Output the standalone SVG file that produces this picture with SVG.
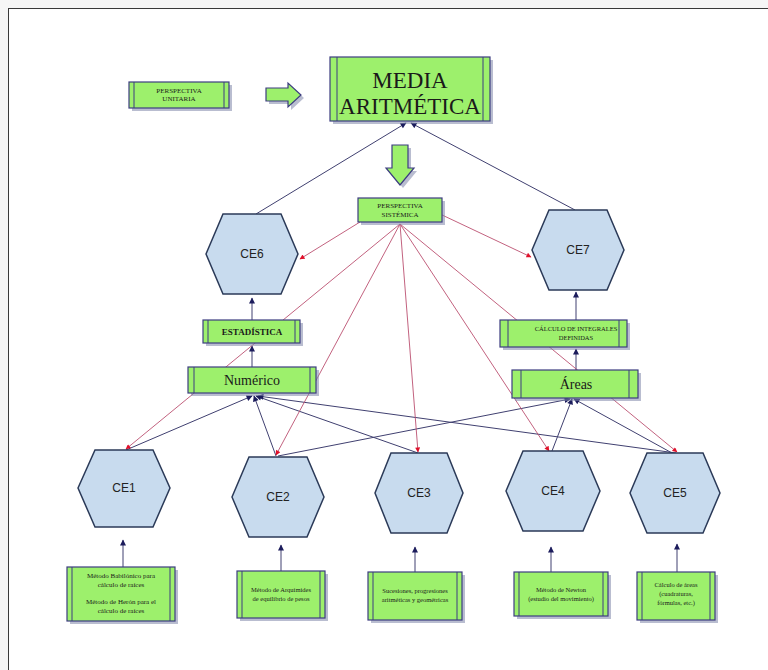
<svg xmlns="http://www.w3.org/2000/svg" width="768" height="670" viewBox="0 0 768 670">
<defs>
<marker id="an" viewBox="0 0 10 10" refX="9" refY="5" markerWidth="7" markerHeight="6" markerUnits="userSpaceOnUse" orient="auto"><path d="M0,0 L10,5 L0,10 Z" fill="#1c1c5c"/></marker>
<marker id="ar" viewBox="0 0 10 10" refX="9" refY="5" markerWidth="9" markerHeight="5" markerUnits="userSpaceOnUse" orient="auto"><path d="M0,0 L10,5 L0,10 Z" fill="#e0102a"/></marker>
</defs>
<style>
.sh{fill:#7f86aa;opacity:0.55}
.bx{fill:#9df06c;stroke:#3c3c80;stroke-width:1.2}
.il{stroke:#3c3c80;stroke-width:1}
.hx{fill:#c8dbee;stroke:#2b3a58;stroke-width:1.5}
.nv{stroke:#404070;stroke-width:1;fill:none;marker-end:url(#an)}
.rd{stroke:#bb5070;stroke-width:0.9;fill:none;marker-end:url(#ar)}
.ser{font-family:"Liberation Serif","Times New Roman",serif;fill:#1a1a1a;text-anchor:middle}
.ce{font-family:"Liberation Sans",Arial,sans-serif;font-size:12px;fill:#222;text-anchor:middle}
.ga{fill:#9df06c;stroke:#3c3c80;stroke-width:1.2}
</style>
<rect x="0" y="0" width="768" height="670" fill="#f6f6f6"/>
<rect x="8.5" y="8.5" width="800" height="700" fill="#ffffff" stroke="#3a3a3a" stroke-width="1"/>

<g id="connectors">
<line class="nv" x1="256" y1="214" x2="406" y2="123"/>
<line class="nv" x1="575" y1="210" x2="411" y2="123"/>
<line class="nv" x1="252" y1="320" x2="252" y2="298"/>
<line class="nv" x1="252" y1="367" x2="252" y2="346"/>
<line class="nv" x1="576" y1="370" x2="576" y2="349"/>
<line class="nv" x1="576" y1="320" x2="576" y2="292"/>
<line class="nv" x1="126" y1="450" x2="252" y2="396"/>
<line class="nv" x1="276" y1="456" x2="254" y2="396"/>
<line class="nv" x1="418" y1="453" x2="256" y2="396"/>
<line class="nv" x1="676" y1="453" x2="258" y2="396"/>
<line class="nv" x1="278" y1="456" x2="570" y2="399"/>
<line class="nv" x1="552" y1="451" x2="572" y2="399"/>
<line class="nv" x1="672" y1="453" x2="574" y2="399"/>
<line class="nv" x1="123" y1="567" x2="123" y2="540"/>
<line class="nv" x1="281" y1="571" x2="281" y2="545"/>
<line class="nv" x1="415" y1="572" x2="415" y2="547"/>
<line class="nv" x1="551" y1="572" x2="551" y2="547"/>
<line class="nv" x1="677" y1="572" x2="677" y2="544"/>
<line class="rd" x1="360" y1="222" x2="300" y2="259"/>
<line class="rd" x1="440" y1="214" x2="531" y2="257"/>
<line class="rd" x1="400" y1="224" x2="126" y2="449"/>
<line class="rd" x1="400" y1="224" x2="276" y2="455"/>
<line class="rd" x1="400" y1="224" x2="418" y2="452"/>
<line class="rd" x1="400" y1="224" x2="549" y2="451"/>
<line class="rd" x1="400" y1="224" x2="677" y2="452"/>
</g>

<g id="arrow-right">
<polygon class="sh" points="269,91 291,91 291,86 304,98 291,110 291,104 269,104"/>
<polygon class="ga" points="266,88 288,88 288,83 301,95 288,107 288,101 266,101"/>
</g>
<g id="arrow-down">
<polygon class="sh" points="395,148 411,148 411,171 417,171 403,188 389,171 395,171"/>
<polygon class="ga" points="392,145 408,145 408,168 414,168 400,185 386,168 392,168"/>
</g>

<g id="perspectiva-unitaria">
<rect class="sh" x="132" y="85" width="100" height="26"/>
<rect class="bx" x="129" y="82" width="100" height="26"/>
<line class="il" x1="134" y1="82" x2="134" y2="108"/><line class="il" x1="224" y1="82" x2="224" y2="108"/>
<text class="ser" font-size="7" x="179" y="93">PERSPECTIVA</text>
<text class="ser" font-size="7" x="179" y="101">UNITARIA</text>
</g>

<g id="media-aritmetica">
<rect class="sh" x="333" y="60" width="160" height="64"/>
<rect class="bx" x="330" y="57" width="160" height="64"/>
<line class="il" x1="337" y1="57" x2="337" y2="121"/><line class="il" x1="483" y1="57" x2="483" y2="121"/>
<text class="ser" font-size="23" x="410" y="88">MEDIA</text>
<text class="ser" font-size="23" x="410" y="114">ARITMÉTICA</text>
</g>

<g id="perspectiva-sistemica">
<rect class="sh" x="361" y="201" width="84" height="24"/>
<rect class="bx" x="358" y="198" width="84" height="24"/>
<text class="ser" font-size="7" x="400" y="208">PERSPECTIVA</text>
<text class="ser" font-size="7" x="400" y="217">SISTÉMICA</text>
</g>

<g id="ce6"><path class="hx" d="M206,254 L223,214 L281,214 L298,254 L281,294 L223,294 Z"/><text class="ce" x="252" y="258">CE6</text></g>
<g id="ce7"><path class="hx" d="M532,250 L549,210 L607,210 L624,250 L607,290 L549,290 Z"/><text class="ce" x="578" y="254">CE7</text></g>

<g id="estadistica">
<rect class="sh" x="206" y="323" width="97" height="23"/>
<rect class="bx" x="203" y="320" width="97" height="23"/>
<line class="il" x1="208" y1="320" x2="208" y2="343"/><line class="il" x1="295" y1="320" x2="295" y2="343"/>
<text class="ser" font-size="9" font-weight="bold" x="252" y="335">ESTADÍSTICA</text>
</g>

<g id="calculo-integrales">
<rect class="sh" x="503" y="323" width="127" height="27"/>
<rect class="bx" x="500" y="320" width="127" height="27"/>
<line class="il" x1="508" y1="320" x2="508" y2="347"/><line class="il" x1="619" y1="320" x2="619" y2="347"/>
<text class="ser" font-size="6.5" x="576" y="331">CÁLCULO DE INTEGRALES</text>
<text class="ser" font-size="6.5" x="576" y="340">DEFINIDAS</text>
</g>

<g id="numerico">
<rect class="sh" x="191" y="370" width="128" height="26"/>
<rect class="bx" x="188" y="367" width="128" height="26"/>
<line class="il" x1="194" y1="367" x2="194" y2="393"/><line class="il" x1="310" y1="367" x2="310" y2="393"/>
<text class="ser" font-size="14" x="252" y="385">Numérico</text>
</g>

<g id="areas">
<rect class="sh" x="515" y="373" width="126" height="28"/>
<rect class="bx" x="512" y="370" width="126" height="28"/>
<line class="il" x1="521" y1="370" x2="521" y2="398"/><line class="il" x1="629" y1="370" x2="629" y2="398"/>
<text class="ser" font-size="14" x="576" y="389">Áreas</text>
</g>

<g id="ce1"><path class="hx" d="M78,488 L95,450 L153,450 L170,488 L153,527 L95,527 Z"/><text class="ce" x="124" y="492">CE1</text></g>
<g id="ce2"><path class="hx" d="M232,497 L249,457 L307,457 L324,497 L307,537 L249,537 Z"/><text class="ce" x="278" y="501">CE2</text></g>
<g id="ce3"><path class="hx" d="M375,493 L391,453 L447,453 L463,493 L447,533 L391,533 Z"/><text class="ce" x="419" y="497">CE3</text></g>
<g id="ce4"><path class="hx" d="M506,491 L523,451 L583,451 L600,491 L583,531 L523,531 Z"/><text class="ce" x="553" y="495">CE4</text></g>
<g id="ce5"><path class="hx" d="M630,493 L647,453 L703,453 L720,493 L703,533 L647,533 Z"/><text class="ce" x="675" y="497">CE5</text></g>

<g id="box-babilonico">
<rect class="sh" x="70" y="570" width="108" height="54"/>
<rect class="bx" x="67" y="567" width="108" height="54"/>
<line class="il" x1="72" y1="567" x2="72" y2="621"/><line class="il" x1="170" y1="567" x2="170" y2="621"/>
<text class="ser" font-size="7" x="121" y="578">Método Babilónico para</text>
<text class="ser" font-size="7" x="121" y="587">cálculo de raíces</text>
<text class="ser" font-size="7" x="121" y="604">Método de Herón para el</text>
<text class="ser" font-size="7" x="121" y="613">cálculo de raíces</text>
</g>

<g id="box-arquimides">
<rect class="sh" x="240" y="574" width="88" height="47"/>
<rect class="bx" x="237" y="571" width="88" height="47"/>
<line class="il" x1="242" y1="571" x2="242" y2="618"/><line class="il" x1="320" y1="571" x2="320" y2="618"/>
<text class="ser" font-size="6.5" x="281" y="592">Método de Arquímides</text>
<text class="ser" font-size="6.5" x="281" y="601">de equilibrio de pesos</text>
</g>

<g id="box-sucesiones">
<rect class="sh" x="371" y="575" width="94" height="48"/>
<rect class="bx" x="368" y="572" width="94" height="48"/>
<line class="il" x1="373" y1="572" x2="373" y2="620"/><line class="il" x1="457" y1="572" x2="457" y2="620"/>
<text class="ser" font-size="6.5" x="415" y="593">Sucesiones, progresiones</text>
<text class="ser" font-size="6.5" x="415" y="602">aritméticas y geométricas</text>
</g>

<g id="box-newton">
<rect class="sh" x="517" y="575" width="94" height="44"/>
<rect class="bx" x="514" y="572" width="94" height="44"/>
<line class="il" x1="519" y1="572" x2="519" y2="616"/><line class="il" x1="603" y1="572" x2="603" y2="616"/>
<text class="ser" font-size="6.5" x="561" y="592">Método de Newton</text>
<text class="ser" font-size="6.5" x="561" y="601">(estudio del movimiento)</text>
</g>

<g id="box-areas">
<rect class="sh" x="640" y="575" width="78" height="48"/>
<rect class="bx" x="637" y="572" width="78" height="48"/>
<line class="il" x1="642" y1="572" x2="642" y2="620"/><line class="il" x1="710" y1="572" x2="710" y2="620"/>
<text class="ser" font-size="6.5" x="676" y="587">Cálculo de áreas</text>
<text class="ser" font-size="6.5" x="676" y="596">(cuadraturas,</text>
<text class="ser" font-size="6.5" x="676" y="605">fórmulas, etc.)</text>
</g>
</svg>
